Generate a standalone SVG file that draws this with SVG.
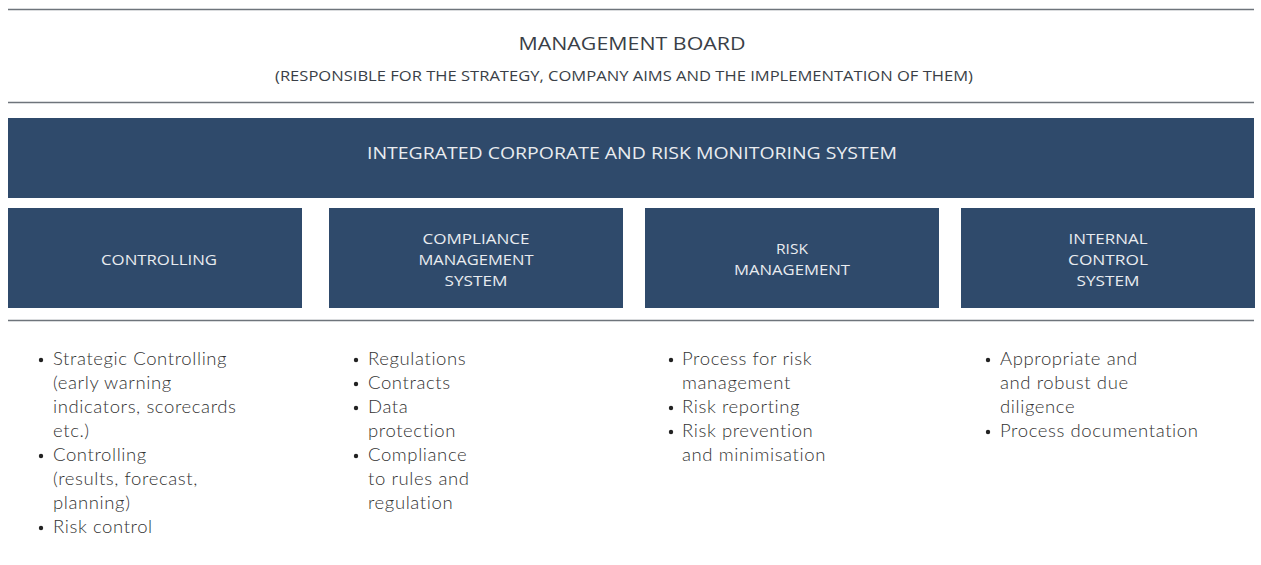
<svg xmlns="http://www.w3.org/2000/svg" width="1261" height="565" viewBox="0 0 1261 565">
<style>
.rule{stroke:#6e747b;stroke-width:1.5}
.box{fill:#2f4a6b}
.hd{font-family:"Open Sans","Liberation Sans",sans-serif;fill:#3a3f47;text-anchor:middle}
.bt{font-family:"Open Sans","Liberation Sans",sans-serif;fill:#e9ecf0;text-anchor:middle;font-size:15px}
.li{font-family:Lato,"Liberation Sans",sans-serif;font-weight:300;fill:#333333;font-size:18.5px;letter-spacing:0.6px}
.dot{fill:#222222}
</style>
<rect width="1261" height="565" fill="#ffffff"/>
<g id="connectors">
<line class="rule" x1="8" y1="9.5" x2="1254" y2="9.5"/>
<line class="rule" x1="8" y1="102.5" x2="1254" y2="102.5"/>
<line class="rule" x1="8" y1="320.5" x2="1254" y2="320.5"/>
</g>
<g id="board">
<text class="hd" x="632" y="50" font-size="19" textLength="227" lengthAdjust="spacingAndGlyphs">MANAGEMENT BOARD</text>
<text class="hd" x="624" y="81" font-size="14" textLength="698" lengthAdjust="spacingAndGlyphs">(RESPONSIBLE FOR THE STRATEGY, COMPANY AIMS AND THE IMPLEMENTATION OF THEM)</text>
</g>
<g id="integrated">
<rect class="box" x="8" y="118" width="1246" height="80"/>
<text class="bt" x="632" y="159" style="font-size:17px" textLength="530" lengthAdjust="spacingAndGlyphs">INTEGRATED CORPORATE AND RISK MONITORING SYSTEM</text>
</g>
<g id="controlling">
<rect class="box" x="8" y="208" width="294" height="100"/>
<text class="bt" x="159" y="265" textLength="116" lengthAdjust="spacingAndGlyphs">CONTROLLING</text>
</g>
<g id="compliance">
<rect class="box" x="329" y="208" width="294" height="100"/>
<text class="bt" x="476" y="244" textLength="107" lengthAdjust="spacingAndGlyphs">COMPLIANCE</text>
<text class="bt" x="476" y="265" textLength="115" lengthAdjust="spacingAndGlyphs">MANAGEMENT</text>
<text class="bt" x="476" y="286" textLength="63" lengthAdjust="spacingAndGlyphs">SYSTEM</text>
</g>
<g id="risk">
<rect class="box" x="645" y="208" width="294" height="100"/>
<text class="bt" x="792" y="254" textLength="32" lengthAdjust="spacingAndGlyphs">RISK</text>
<text class="bt" x="792" y="275" textLength="116" lengthAdjust="spacingAndGlyphs">MANAGEMENT</text>
</g>
<g id="ics">
<rect class="box" x="961" y="208" width="294" height="100"/>
<text class="bt" x="1108" y="244" textLength="79" lengthAdjust="spacingAndGlyphs">INTERNAL</text>
<text class="bt" x="1108" y="265" textLength="80" lengthAdjust="spacingAndGlyphs">CONTROL</text>
<text class="bt" x="1108" y="286" textLength="63" lengthAdjust="spacingAndGlyphs">SYSTEM</text>
</g>
<g id="list-controlling">
<circle class="dot" cx="41" cy="360" r="2.2"/>
<circle class="dot" cx="41" cy="456" r="2.2"/>
<circle class="dot" cx="41" cy="528" r="2.2"/>
<text class="li" x="53" y="365">Strategic Controlling</text>
<text class="li" x="53" y="389">(early warning</text>
<text class="li" x="53" y="413">indicators, scorecards</text>
<text class="li" x="53" y="437">etc.)</text>
<text class="li" x="53" y="461">Controlling</text>
<text class="li" x="53" y="485">(results, forecast,</text>
<text class="li" x="53" y="509">planning)</text>
<text class="li" x="53" y="533">Risk control</text>
</g>
<g id="list-compliance">
<circle class="dot" cx="356" cy="360" r="2.2"/>
<circle class="dot" cx="356" cy="384" r="2.2"/>
<circle class="dot" cx="356" cy="408" r="2.2"/>
<circle class="dot" cx="356" cy="456" r="2.2"/>
<text class="li" x="368" y="365">Regulations</text>
<text class="li" x="368" y="389">Contracts</text>
<text class="li" x="368" y="413">Data</text>
<text class="li" x="368" y="437">protection</text>
<text class="li" x="368" y="461">Compliance</text>
<text class="li" x="368" y="485">to rules and</text>
<text class="li" x="368" y="509">regulation</text>
</g>
<g id="list-risk">
<circle class="dot" cx="671" cy="360" r="2.2"/>
<circle class="dot" cx="671" cy="408" r="2.2"/>
<circle class="dot" cx="671" cy="432" r="2.2"/>
<text class="li" x="682" y="365">Process for risk</text>
<text class="li" x="682" y="389">management</text>
<text class="li" x="682" y="413">Risk reporting</text>
<text class="li" x="682" y="437">Risk prevention</text>
<text class="li" x="682" y="461">and minimisation</text>
</g>
<g id="list-ics">
<circle class="dot" cx="988" cy="360" r="2.2"/>
<circle class="dot" cx="988" cy="432" r="2.2"/>
<text class="li" x="1000" y="365">Appropriate and</text>
<text class="li" x="1000" y="389">and robust due</text>
<text class="li" x="1000" y="413">diligence</text>
<text class="li" x="1000" y="437">Process documentation</text>
</g>
</svg>
